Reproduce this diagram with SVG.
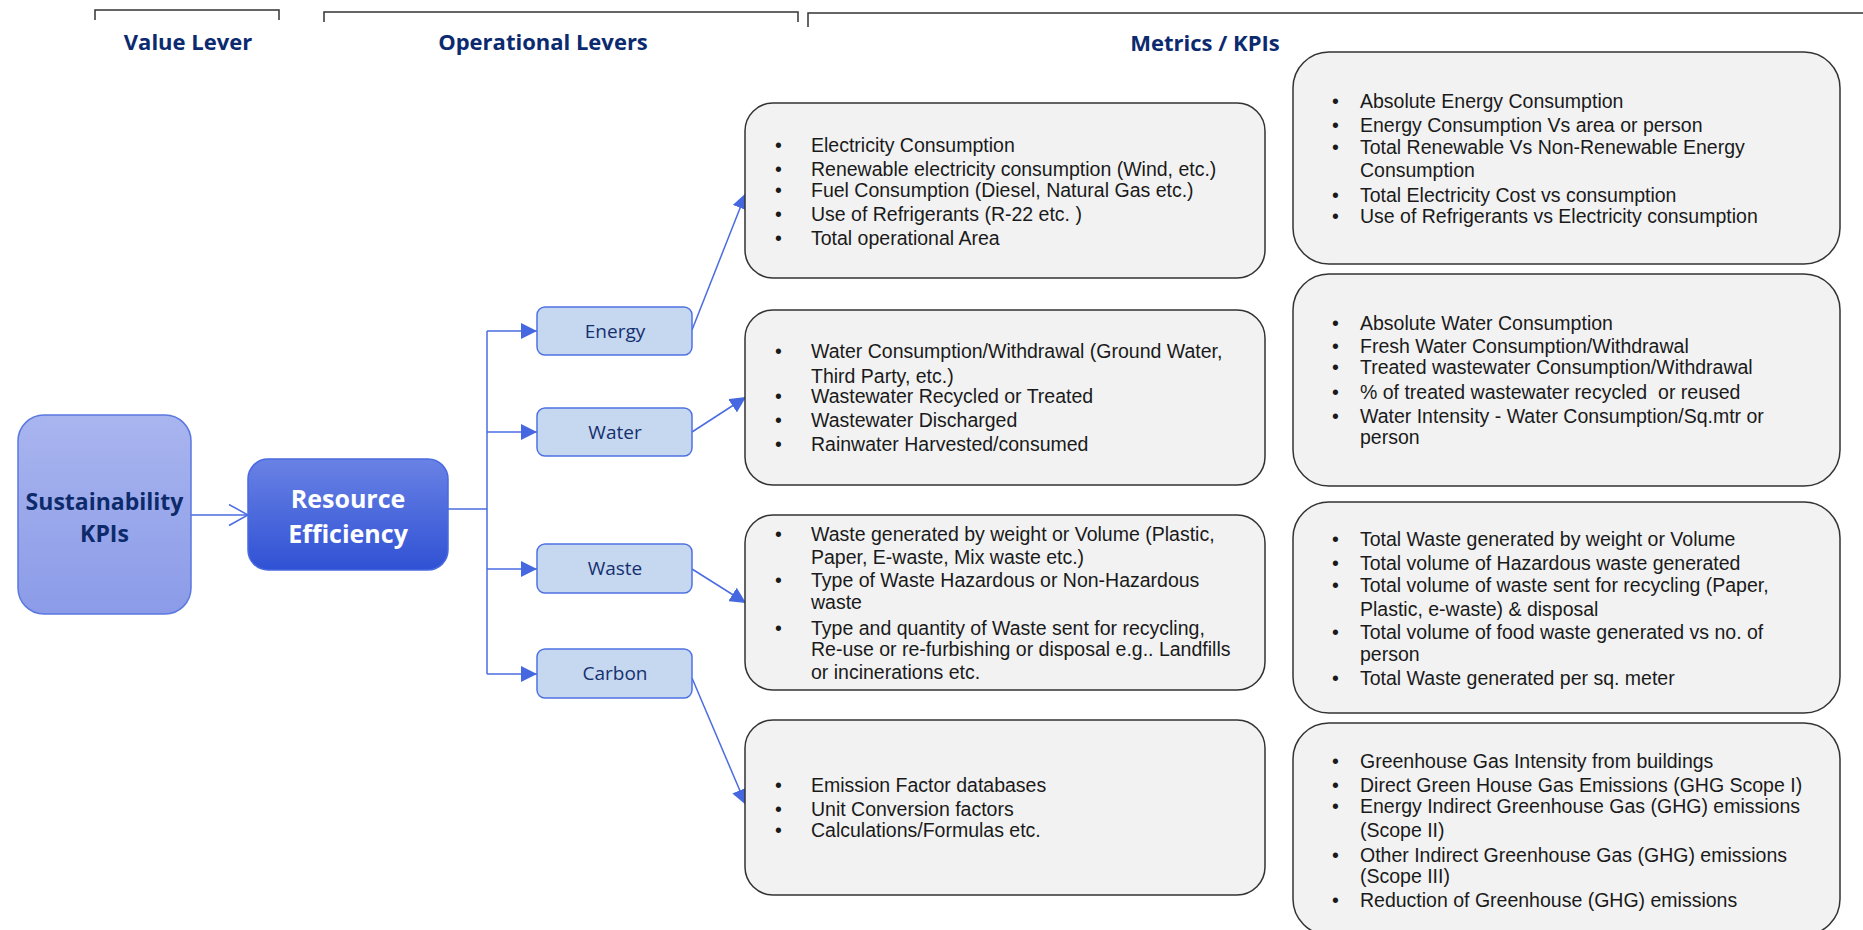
<svg xmlns="http://www.w3.org/2000/svg" width="1863" height="930" viewBox="0 0 1863 930">
<style>
.hdr{font-family:"Open Sans","Liberation Sans",sans-serif;font-weight:700;font-size:22px;fill:#0b2a6f;text-anchor:middle}
.br{fill:none;stroke:#333;stroke-width:1.5}
.lev rect{fill:#c6d7f0;stroke:#4f72e2;stroke-width:1.5}
.lev text{font-family:"Open Sans","Liberation Sans",sans-serif;font-size:19px;fill:#14306e;text-anchor:middle}
.box{fill:#f2f2f2;stroke:#333;stroke-width:1.5}
.t{font-family:"Liberation Sans",Arial,sans-serif;font-size:19.5px;fill:#1a1a1a}
.conn{fill:none;stroke:#4a6ce0;stroke-width:1.5}
</style>
<defs>
<linearGradient id="gS" x1="0" y1="0" x2="0" y2="1"><stop offset="0" stop-color="#a9b5ef"/><stop offset="1" stop-color="#8b9be8"/></linearGradient>
<linearGradient id="gR" x1="0" y1="0" x2="0" y2="1"><stop offset="0" stop-color="#6982e5"/><stop offset="1" stop-color="#3051d4"/></linearGradient>
<marker id="af" viewBox="0 0 16 16" refX="16" refY="8" markerWidth="16" markerHeight="16" markerUnits="userSpaceOnUse" orient="auto"><path d="M0,0 L16,8 L0,16 z" fill="#4568e0"/></marker>
<marker id="ao" viewBox="-1 -1 21 23" refX="19" refY="10.5" markerWidth="21" markerHeight="23" markerUnits="userSpaceOnUse" orient="auto"><path d="M0,0 L19,10.5 L0,21" fill="none" stroke="#4a6ce0" stroke-width="1.5"/></marker>
</defs>
<rect width="1863" height="930" fill="#fff"/>

<g id="headers">
<path class="br" d="M95,20 V10 H279 V20"/>
<path class="br" d="M324,22 V12 H798 V22"/>
<path class="br" d="M808,27 V13 H1863"/>
<text class="hdr" x="188" y="50">Value Lever</text>
<text class="hdr" x="543" y="50">Operational Levers</text>
<text class="hdr" x="1205" y="51">Metrics / KPIs</text>
</g>

<g id="connectors">
<path class="conn" d="M191,515 H248" marker-end="url(#ao)"/>
<path class="conn" d="M448,509 H487"/>
<path class="conn" d="M487,331 V674"/>
<path class="conn" d="M487,331 H537" marker-end="url(#af)"/>
<path class="conn" d="M487,432 H537" marker-end="url(#af)"/>
<path class="conn" d="M487,569 H537" marker-end="url(#af)"/>
<path class="conn" d="M487,674 H537" marker-end="url(#af)"/>
<path class="conn" d="M692,330 L746,193" marker-end="url(#af)"/>
<path class="conn" d="M692,432 L746,397" marker-end="url(#af)"/>
<path class="conn" d="M692,569 L746,603" marker-end="url(#af)"/>
<path class="conn" d="M692,678 L746,805" marker-end="url(#af)"/>
</g>

<g id="sustainability">
<rect x="18" y="415" width="173" height="199" rx="26" fill="url(#gS)" stroke="#5a78e0" stroke-width="1.5"/>
<text x="104.5" y="510" font-family="'Open Sans','Liberation Sans',sans-serif" font-weight="700" font-size="23" fill="#0d2a6b" text-anchor="middle">Sustainability</text>
<text x="104.5" y="542" font-family="'Open Sans','Liberation Sans',sans-serif" font-weight="700" font-size="23" fill="#0d2a6b" text-anchor="middle">KPIs</text>
</g>

<g id="resource">
<rect x="248" y="459" width="200" height="111" rx="20" fill="url(#gR)" stroke="#4a6ae0" stroke-width="1.5"/>
<text x="348" y="508" font-family="'Open Sans','Liberation Sans',sans-serif" font-weight="700" font-size="25" fill="#fff" text-anchor="middle">Resource</text>
<text x="348" y="543" font-family="'Open Sans','Liberation Sans',sans-serif" font-weight="700" font-size="25" fill="#fff" text-anchor="middle">Efficiency</text>
</g>

<g id="energy" class="lev"><rect x="537" y="307" width="155" height="48" rx="8"/><text x="615" y="338">Energy</text></g>
<g id="water" class="lev"><rect x="537" y="408" width="155" height="48" rx="8"/><text x="615" y="439">Water</text></g>
<g id="waste" class="lev"><rect x="537" y="544" width="155" height="49" rx="8"/><text x="615" y="575">Waste</text></g>
<g id="carbon" class="lev"><rect x="537" y="649" width="155" height="49" rx="8"/><text x="615" y="680">Carbon</text></g>

<g id="energy-inputs">
<rect class="box" x="745" y="103" width="520" height="175" rx="28"/>
<text class="t" x="775" y="152">•</text><text class="t" x="811" y="152">Electricity Consumption</text>
<text class="t" x="775" y="176">•</text><text class="t" x="811" y="176">Renewable electricity consumption (Wind, etc.)</text>
<text class="t" x="775" y="197">•</text><text class="t" x="811" y="197">Fuel Consumption (Diesel, Natural Gas etc.)</text>
<text class="t" x="775" y="221">•</text><text class="t" x="811" y="221">Use of Refrigerants (R-22 etc. )</text>
<text class="t" x="775" y="245">•</text><text class="t" x="811" y="245">Total operational Area</text>
</g>

<g id="water-inputs">
<rect class="box" x="745" y="310" width="520" height="175" rx="28"/>
<text class="t" x="775" y="358">•</text><text class="t" x="811" y="358">Water Consumption/Withdrawal (Ground Water,</text>
<text class="t" x="811" y="383">Third Party, etc.)</text>
<text class="t" x="775" y="403">•</text><text class="t" x="811" y="403">Wastewater Recycled or Treated</text>
<text class="t" x="775" y="427">•</text><text class="t" x="811" y="427">Wastewater Discharged</text>
<text class="t" x="775" y="451">•</text><text class="t" x="811" y="451">Rainwater Harvested/consumed</text>
</g>

<g id="waste-inputs">
<rect class="box" x="745" y="515" width="520" height="175" rx="28"/>
<text class="t" x="775" y="541">•</text><text class="t" x="811" y="541">Waste generated by weight or Volume (Plastic,</text>
<text class="t" x="811" y="564">Paper, E-waste, Mix waste etc.)</text>
<text class="t" x="775" y="587">•</text><text class="t" x="811" y="587">Type of Waste Hazardous or Non-Hazardous</text>
<text class="t" x="811" y="609">waste</text>
<text class="t" x="775" y="635">•</text><text class="t" x="811" y="635">Type and quantity of Waste sent for recycling,</text>
<text class="t" x="811" y="656">Re-use or re-furbishing or disposal e.g.. Landfills</text>
<text class="t" x="811" y="679">or incinerations etc.</text>
</g>

<g id="carbon-inputs">
<rect class="box" x="745" y="720" width="520" height="175" rx="28"/>
<text class="t" x="775" y="792">•</text><text class="t" x="811" y="792">Emission Factor databases</text>
<text class="t" x="775" y="816">•</text><text class="t" x="811" y="816">Unit Conversion factors</text>
<text class="t" x="775" y="837">•</text><text class="t" x="811" y="837">Calculations/Formulas etc.</text>
</g>

<g id="energy-kpis">
<rect class="box" x="1293" y="52" width="547" height="212" rx="36"/>
<text class="t" x="1332" y="108">•</text><text class="t" x="1360" y="108">Absolute Energy Consumption</text>
<text class="t" x="1332" y="132">•</text><text class="t" x="1360" y="132">Energy Consumption Vs area or person</text>
<text class="t" x="1332" y="154">•</text><text class="t" x="1360" y="154">Total Renewable Vs Non-Renewable Energy</text>
<text class="t" x="1360" y="177">Consumption</text>
<text class="t" x="1332" y="202">•</text><text class="t" x="1360" y="202">Total Electricity Cost vs consumption</text>
<text class="t" x="1332" y="223">•</text><text class="t" x="1360" y="223">Use of Refrigerants vs Electricity consumption</text>
</g>

<g id="water-kpis">
<rect class="box" x="1293" y="274" width="547" height="212" rx="36"/>
<text class="t" x="1332" y="330">•</text><text class="t" x="1360" y="330">Absolute Water Consumption</text>
<text class="t" x="1332" y="353">•</text><text class="t" x="1360" y="353">Fresh Water Consumption/Withdrawal</text>
<text class="t" x="1332" y="374">•</text><text class="t" x="1360" y="374">Treated wastewater Consumption/Withdrawal</text>
<text class="t" x="1332" y="399">•</text><text class="t" x="1360" y="399" style="white-space:pre">% of treated wastewater recycled  or reused</text>
<text class="t" x="1332" y="423">•</text><text class="t" x="1360" y="423">Water Intensity - Water Consumption/Sq.mtr or</text>
<text class="t" x="1360" y="444">person</text>
</g>

<g id="waste-kpis">
<rect class="box" x="1293" y="502" width="547" height="211" rx="36"/>
<text class="t" x="1332" y="546">•</text><text class="t" x="1360" y="546">Total Waste generated by weight or Volume</text>
<text class="t" x="1332" y="570">•</text><text class="t" x="1360" y="570">Total volume of Hazardous waste generated</text>
<text class="t" x="1332" y="592">•</text><text class="t" x="1360" y="592">Total volume of waste sent for recycling (Paper,</text>
<text class="t" x="1360" y="616">Plastic, e-waste) &amp; disposal</text>
<text class="t" x="1332" y="639">•</text><text class="t" x="1360" y="639">Total volume of food waste generated vs no. of</text>
<text class="t" x="1360" y="661">person</text>
<text class="t" x="1332" y="685">•</text><text class="t" x="1360" y="685">Total Waste generated per sq. meter</text>
</g>

<g id="carbon-kpis">
<rect class="box" x="1293" y="723" width="547" height="212" rx="36"/>
<text class="t" x="1332" y="768">•</text><text class="t" x="1360" y="768">Greenhouse Gas Intensity from buildings</text>
<text class="t" x="1332" y="792">•</text><text class="t" x="1360" y="792">Direct Green House Gas Emissions (GHG Scope I)</text>
<text class="t" x="1332" y="813">•</text><text class="t" x="1360" y="813">Energy Indirect Greenhouse Gas (GHG) emissions</text>
<text class="t" x="1360" y="837">(Scope II)</text>
<text class="t" x="1332" y="862">•</text><text class="t" x="1360" y="862">Other Indirect Greenhouse Gas (GHG) emissions</text>
<text class="t" x="1360" y="883">(Scope III)</text>
<text class="t" x="1332" y="907">•</text><text class="t" x="1360" y="907">Reduction of Greenhouse (GHG) emissions</text>
</g>
</svg>
